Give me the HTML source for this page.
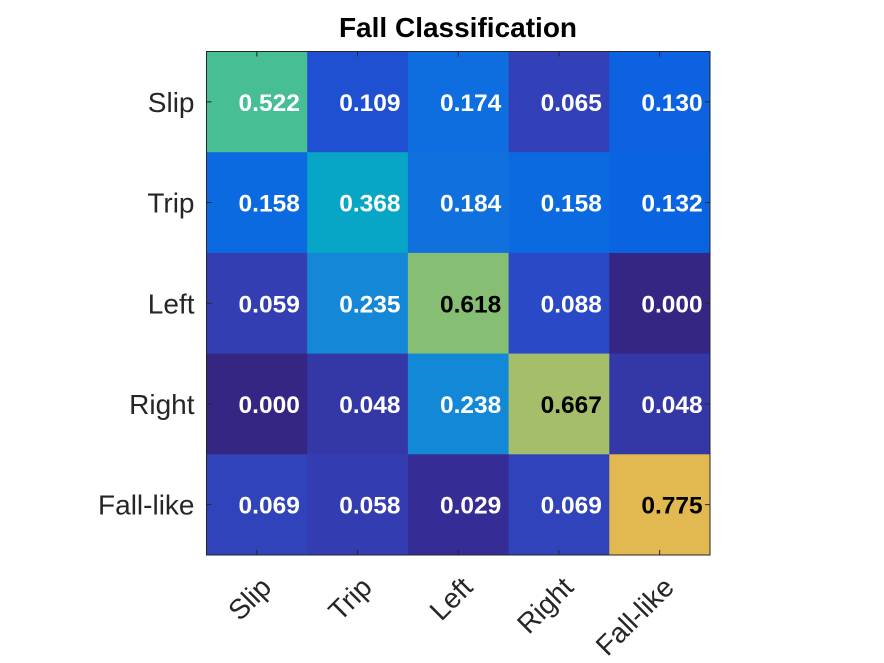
<!DOCTYPE html>
<html><head><meta charset="utf-8"><style>
html,body{margin:0;padding:0;background:#fff;}
svg{display:block;font-family:"Liberation Sans",sans-serif;}
</style></head><body>
<svg id="chart" width="884" height="663" viewBox="0 0 884 663">
<text x="458" y="37" text-anchor="middle" font-size="28" font-weight="bold" fill="#000">Fall Classification</text>
<g id="cells"></g>
<g id="axes"></g>
</svg>
<script>
const rowLabels = ["Slip","Trip","Left","Right","Fall-like"];
const colLabels = ["Slip","Trip","Left","Right","Fall-like"];
const values = [
 [0.522,0.109,0.174,0.065,0.130],
 [0.158,0.368,0.184,0.158,0.132],
 [0.059,0.235,0.618,0.088,0.000],
 [0.000,0.048,0.238,0.667,0.048],
 [0.069,0.058,0.029,0.069,0.775]
];
const NS="http://www.w3.org/2000/svg";
const L=206.5,T=51.5,W=503.5,H=503.5;
const n=rowLabels.length, cw=W/colLabels.length, ch=H/n;
const xPos=j=>L+j*cw, yPos=i=>T+i*ch;
const stops=[[0,[52,38,130]],[0.04,[53,46,150]],[0.085,[50,66,185]],[0.14,[32,80,210]],[0.17,[10,100,225]],[0.24,[15,112,222]],[0.3,[20,135,215]],[0.47,[5,165,200]],[0.67,[70,190,150]],[0.8,[135,190,115]],[0.86,[165,190,105]],[1,[225,185,80]]];
const vmax=Math.max(...values.flat()), vmin=Math.min(...values.flat());
function cmap(v){const t=(v-vmin)/((vmax-vmin)||1);for(let k=1;k<stops.length;k++){if(t<=stops[k][0]){const a=stops[k-1],b=stops[k],f=(t-a[0])/(b[0]-a[0]);return 'rgb('+a[1].map((c,i)=>Math.round(c+(b[1][i]-c)*f)).join(',')+')';}}return 'rgb(225,185,80)';}
const cells=document.getElementById('cells'), axes=document.getElementById('axes');
function mk(tag,attrs,parent){const e=document.createElementNS(NS,tag);for(const k in attrs)e.setAttribute(k,attrs[k]);parent.appendChild(e);return e;}
values.forEach((row,i)=>row.forEach((v,j)=>{
 const r=mk('rect',{x:xPos(j),y:yPos(i),width:cw+0.5,height:ch+0.5,fill:cmap(v)},cells);
 
 
 const t=mk('text',{x:xPos(j)+cw/2+43,y:yPos(i)+ch/2+9,'text-anchor':'end','font-size':'24.5','font-weight':'bold',fill:(v-vmin)/(vmax-vmin)>0.75?'#000':'#fff'},cells);
 t.textContent=v.toFixed(3);
 
 
}));
const frame=mk('rect',{x:L,y:T,width:W,height:H,fill:'none',stroke:'#262626','stroke-width':'1'},axes);


rowLabels.forEach((lab,i)=>{
 const y=yPos(i)+ch/2;
 mk('line',{x1:L,y1:y,x2:L+5,y2:y,stroke:'#262626'},axes);
 mk('line',{x1:L+W,y1:y,x2:L+W-5,y2:y,stroke:'#262626'},axes);
 const t=mk('text',{x:L-12,y:y+10,'text-anchor':'end','font-size':'28',fill:'#262626'},axes);
 t.textContent=lab;
 
 
});
colLabels.forEach((lab,j)=>{
 const x=xPos(j)+cw/2;
 mk('line',{x1:x,y1:T,x2:x,y2:T+5,stroke:'#262626'},axes);
 mk('line',{x1:x,y1:T+H,x2:x,y2:T+H-5,stroke:'#262626'},axes);
 const t=mk('text',{x:0,y:0,'text-anchor':'end','font-size':'28',fill:'#262626',transform:'translate('+(x+16)+','+(T+H+34)+') rotate(-45)'},axes);
 t.textContent=lab;
 
 
});
</script>
</body></html>
